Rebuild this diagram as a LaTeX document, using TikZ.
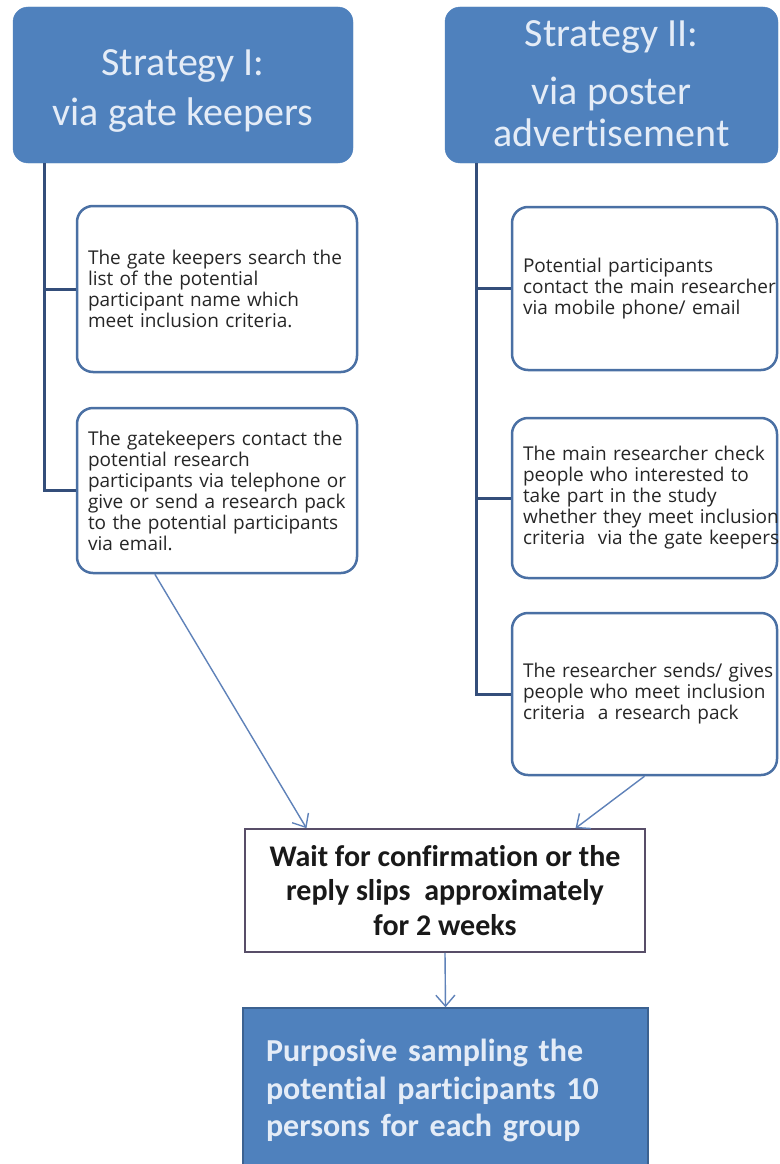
\documentclass[tikz,border=0pt]{standalone}
\usepackage{fontspec}
\setmainfont{Carlito}[Ligatures={NoCommon}]
\newfontfamily\itemfont{Open Sans}
\usetikzlibrary{arrows.meta,calc}

\definecolor{headblue}{RGB}{79,129,189}
\definecolor{headtext}{RGB}{228,236,247}
\definecolor{itemline}{RGB}{74,112,164}
\definecolor{treecol}{RGB}{52,78,122}
\definecolor{arrowcol}{RGB}{95,130,185}
\definecolor{waitline}{RGB}{88,78,104}
\definecolor{resultline}{RGB}{60,98,145}

% keep a line of a step box on one row, even if it runs a little long
\newcommand\keepline[1]{\mbox{#1}}

\begin{document}
\begin{tikzpicture}[x=1pt,y=-1pt,
  titlebox/.style={fill=headblue, draw=headblue, rounded corners=15pt,
    text=headtext, align=center, inner sep=0pt},
  itembox/.style={draw=itemline, line width=2.5pt, rounded corners=16pt,
    fill=white, align=left, inner xsep=11pt, inner ysep=0pt, text=black!85,
    font=\itemfont\fontsize{19}{21}\selectfont},
  branchline/.style={draw=treecol, line width=3pt},
  flowarrow/.style={draw=arrowcol, line width=1.4pt,
    -{Straight Barb[length=11pt,width=19pt,line width=1.4pt]}},
  waitbox/.style={draw=waitline, line width=1.6pt, fill=white, align=center,
    font=\bfseries\fontsize{30}{34.5}\selectfont, text=black!90},
  resultbox/.style={fill=headblue, draw=resultline, line width=1.5pt,
    align=left, inner xsep=23pt, text=headtext,
    font=\bfseries\fontsize{32}{37.5}\selectfont}
]
\useasboundingbox (0,0) rectangle (779,1164);
\fill[white] (0,0) rectangle (779,1164);

% strategy headers
\node[titlebox, minimum width=340pt, minimum height=156pt,
      font=\fontsize{40}{50}\selectfont] (s1) at (183,85)
  {\rule{0pt}{40pt}Strategy I:\\via gate keepers\rule[-10pt]{0pt}{10pt}};
\node[titlebox, minimum width=333pt, minimum height=156pt,
      font=\fontsize{40}{42}\selectfont] (s2) at (611.5,85)
  {\rule{0pt}{26pt}Strategy II:\\[16pt]via poster\\advertisement\rule[-4pt]{0pt}{4pt}};

% strategy I steps
\node[itembox, text width=258pt, minimum height=166pt] (g1) at (217,289)
  {\keepline{The gate keepers search the}\\\keepline{list of the potential}\\
   \keepline{participant name which}\\\keepline{meet inclusion criteria.}};
\node[itembox, text width=258pt, minimum height=165pt] (g2) at (217,490.5)
  {\keepline{The gatekeepers contact the}\\\keepline{potential research}\\
   \keepline{participants via telephone or}\\\keepline{give or send a research pack}\\
   \keepline{to the potential participants}\\\keepline{via email.}};

% strategy II steps
\node[itembox, text width=243pt, minimum height=163pt] (p1) at (644.5,288.5)
  {\keepline{Potential participants}\\\keepline{contact the main researcher}\\
   \keepline{via mobile phone/ email}};
\node[itembox, text width=243pt, minimum height=160pt] (p2) at (644.5,498)
  {\keepline{The main researcher check}\\\keepline{people who interested to}\\
   \keepline{take part in the study}\\\keepline{whether they meet inclusion}\\
   \keepline{criteria~ via the gate keepers}};
\node[itembox, text width=243pt, minimum height=162pt] (p3) at (644.5,694)
  {\keepline{The researcher sends/ gives}\\\keepline{people who meet inclusion}\\
   \keepline{criteria~ a research pack}};

% common steps
\node[waitbox, minimum width=400pt, minimum height=123pt] (w) at (445,890.5)
  {Wait for confirmation or the\\reply slips~ approximately\\for 2 weeks};
\node[resultbox, text width=359pt, minimum height=165pt] (r) at (445.5,1090.5)
  {Purposive sampling the\\potential participants 10\\persons for each group};

% tree connectors
\coordinate (ltrunk) at ($(s1.south west)+(32,0)$);
\coordinate (rtrunk) at ($(s2.south west)+(32,0)$);
\draw[branchline] (ltrunk) |- (g1.west);
\draw[branchline] (ltrunk) |- (g2.west);
\draw[branchline] (rtrunk) |- (p1.west);
\draw[branchline] (rtrunk) |- (p2.west);
\draw[branchline] (rtrunk) |- (p3.west);

% flow arrows
\coordinate (g2out) at ($(g2.south west)!0.28!(g2.south east)$);
\coordinate (win1) at ($(w.north west)!0.155!(w.north east)$);
\coordinate (win2) at ($(w.north west)!0.825!(w.north east)$);
\draw[flowarrow] (g2out) -- (win1);
\draw[flowarrow] (p3.south) -- (win2);
\draw[flowarrow] (w.south) -- (r.north);
\end{tikzpicture}
\end{document}
